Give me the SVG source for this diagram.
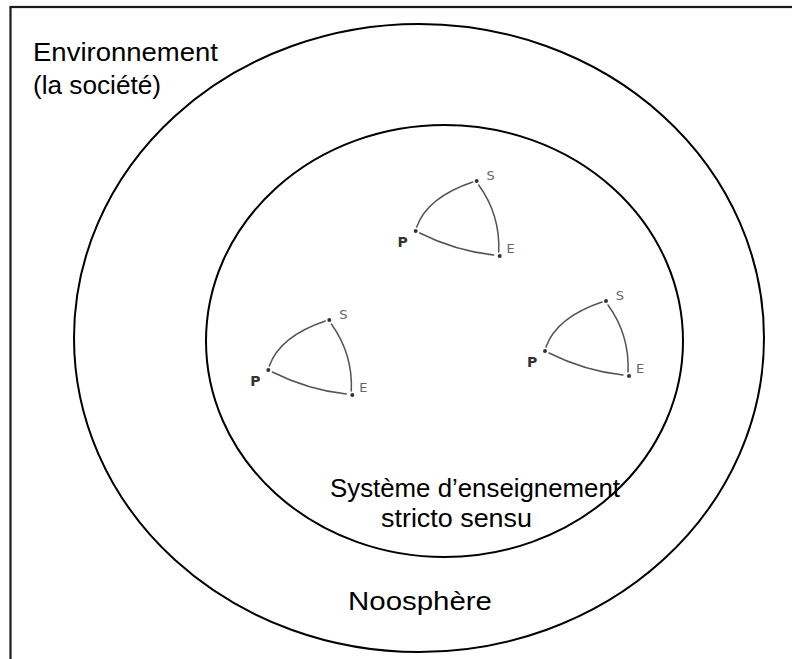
<svg xmlns="http://www.w3.org/2000/svg" width="792" height="659" viewBox="0 0 792 659">
<style>
.frame{fill:none;stroke:#1a1a1a;stroke-width:2.2}
.ring{fill:none;stroke:#000;stroke-width:2}
.big{font-family:"Liberation Sans",Arial,sans-serif;font-size:26px;fill:#000}
.edge{fill:none;stroke:#555;stroke-width:1.5;stroke-linecap:round}
.dot{fill:#333}
.lbl{font-family:"DejaVu Sans","Liberation Sans",sans-serif;font-size:13px;fill:#666;text-anchor:middle}
.lblP{font-family:"DejaVu Sans","Liberation Sans",sans-serif;font-size:14px;fill:#333;font-weight:bold;text-anchor:middle}
</style>
<rect width="792" height="659" fill="#fff"/>
<rect id="environnement" class="frame" x="10.5" y="7" width="820" height="700"/>
<g id="noosphere">
<ellipse class="ring" cx="419" cy="338" rx="345" ry="314"/>
<text class="big" x="348" y="610" textLength="144" lengthAdjust="spacingAndGlyphs">Noosphère</text>
</g>
<g id="systeme">
<ellipse class="ring" cx="444.5" cy="341" rx="238.5" ry="216"/>
<text class="big" x="330" y="497" textLength="290" lengthAdjust="spacingAndGlyphs">Système d’enseignement</text>
<text class="big" x="381" y="527" textLength="151" lengthAdjust="spacingAndGlyphs">stricto sensu</text>
</g>
<g id="env-label">
<text class="big" x="33" y="61" textLength="185" lengthAdjust="spacingAndGlyphs">Environnement</text>
<text class="big" x="33" y="94" textLength="128" lengthAdjust="spacingAndGlyphs">(la société)</text>
</g>
<defs>
<g id="tri">
<path class="edge" d="M1,-4 Q11.5,-33.6 57,-49"/>
<path class="edge" d="M63,-46 Q84.7,-16 83,21"/>
<path class="edge" d="M4,2 Q40,20 78,24"/>
<circle class="dot" cx="0" cy="0" r="2"/>
<circle class="dot" cx="61" cy="-50" r="2"/>
<circle class="dot" cx="84" cy="25" r="2"/>
<text class="lbl" x="75" y="-51">S</text>
<text class="lbl" x="95" y="22">E</text>
<text class="lblP" x="-13" y="16">P</text>
</g>
</defs>
<g id="triangle1" transform="translate(415.7,231)"><use href="#tri"/></g>
<g id="triangle2" transform="translate(268.3,370)"><use href="#tri"/></g>
<g id="triangle3" transform="translate(545,351)"><use href="#tri"/></g>
<g id="connectors"></g>
</svg>
